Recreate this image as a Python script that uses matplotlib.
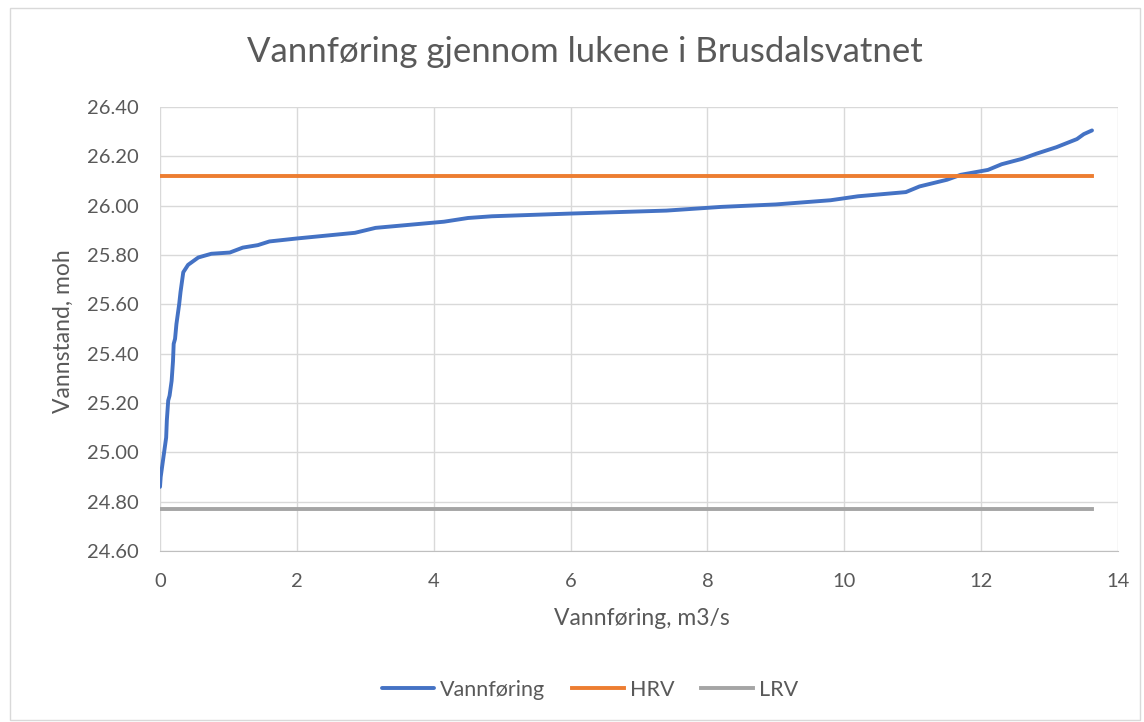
import matplotlib.pyplot as plt
from matplotlib.patches import Rectangle

# vannføring (m3/s) og vannstand (moh)
q = [0.0, 0.01, 0.02, 0.05, 0.06, 0.09, 0.10, 0.12, 0.14, 0.17, 0.19, 0.20, 0.22, 0.24,
     0.26, 0.28, 0.30, 0.31, 0.34, 0.41, 0.56, 0.75,
     1.02, 1.21, 1.43, 1.6, 2.0, 2.85, 3.15, 4.15, 4.5, 4.85, 6.0, 7.4, 8.2, 9.0, 9.8,
     10.2, 10.9, 11.1, 11.5, 11.7, 12.1, 12.3, 12.6, 12.8, 13.1, 13.4, 13.5, 13.62]
h = [24.86, 24.90, 24.92, 24.98, 25.00, 25.06, 25.13, 25.21, 25.23, 25.29, 25.37, 25.44,
     25.46, 25.52, 25.56, 25.60, 25.65, 25.67, 25.73, 25.76,
     25.79, 25.805, 25.81, 25.83, 25.84, 25.855, 25.867, 25.89, 25.91, 25.935, 25.95,
     25.957, 25.968, 25.98, 25.995, 26.005, 26.022, 26.038, 26.055, 26.078, 26.105,
     26.125, 26.145, 26.168, 26.19, 26.21, 26.237, 26.27, 26.29, 26.305]
hrv = 26.12
lrv = 24.77

grey = '#595959'
plt.rcParams['font.family'] = ['Lato', 'DejaVu Sans']

fig = plt.figure(figsize=(11.44, 7.22), dpi=100)
fig.patches.append(Rectangle((10 / 1144, 2 / 722), 1130 / 1144, 712 / 722, transform=fig.transFigure,
                             fill=False, edgecolor='#d9d9d9', linewidth=1))
ax = fig.add_axes([160 / 1144, 1 - 551 / 722, 958 / 1144, 444 / 722])

ax.plot(q, h, color='#4472c4', lw=2.8, label='Vannføring', solid_capstyle='round', zorder=3)
ax.plot([0, q[-1]], [hrv, hrv], color='#ed7d31', lw=2.8, label='HRV', zorder=3)
ax.plot([0, q[-1]], [lrv, lrv], color='#a5a5a5', lw=2.8, label='LRV', zorder=3)

ax.set_xlim(0, 14)
ax.set_ylim(24.6, 26.4)
ax.set_xticks(range(0, 15, 2))
ax.set_yticks([24.6 + 0.2 * i for i in range(10)])
ax.set_yticklabels(['%.2f' % (24.6 + 0.2 * i) for i in range(10)])
ax.grid(True, color='#d9d9d9', lw=1)
ax.set_axisbelow(True)
for s in ['top', 'right', 'left']:
    ax.spines[s].set_visible(False)
ax.spines['bottom'].set_color('#bfbfbf')
ax.tick_params(length=0, labelsize=14.5, colors=grey)
ax.tick_params(axis='y', pad=15)
ax.tick_params(axis='x', pad=16)

fig.text(585 / 1144, 1 - 52 / 722, 'Vannføring gjennom lukene i Brusdalsvatnet',
         fontsize=25, color=grey, ha='center', va='center')
ax.set_xlabel('Vannføring, m3/s', fontsize=16.5, color=grey)
ax.xaxis.set_label_coords((642 - 160) / 958, (551 - 608) / 444)
ax.set_ylabel('Vannstand, moh', fontsize=16.5, color=grey)
ax.yaxis.set_label_coords((74 - 160) / 958, (551 - 331) / 444)

fig.legend(loc='center', bbox_to_anchor=(590 / 1144, 1 - 690 / 722), ncol=3, frameon=False,
           fontsize=15.5, labelcolor=grey, handlelength=2.4, columnspacing=1.25, handletextpad=0.28)

fig.savefig('out.png', dpi=100)
